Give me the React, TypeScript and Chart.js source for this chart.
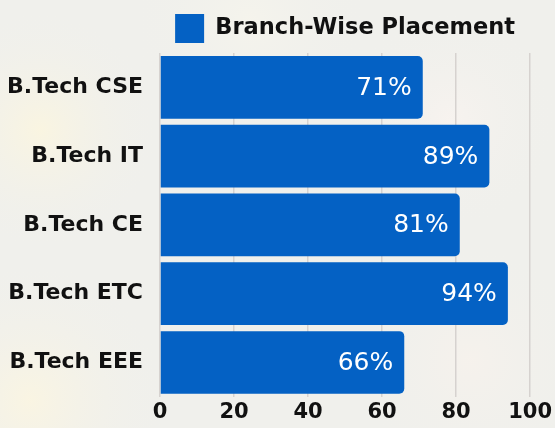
import React, { useEffect, useRef } from "react";
import { Chart, registerables } from "chart.js";

Chart.register(...registerables);

const categories = ["B.Tech CSE", "B.Tech IT", "B.Tech CE", "B.Tech ETC", "B.Tech EEE"];
const placementValues = [71, 89, 81, 94, 66];
const seriesLabel = "Branch-Wise Placement";
const xMin = 0;
const xMax = 100;
const xStep = 20;

const FONT = "'DejaVu Sans', 'Open Sans', sans-serif";
const BAR_COLOR = "#0461c4";

const bgPlugin = {
  id: "bgPlugin",
  beforeDraw(chart: any) {
    const { ctx, width, height } = chart;
    ctx.save();
    ctx.fillStyle = "#f0f0ec";
    ctx.fillRect(0, 0, width, height);
    const spots = [
      [40, 130, 120, "rgba(252,246,222,0.8)"],
      [30, 400, 140, "rgba(252,246,224,0.8)"],
      [470, 360, 120, "rgba(248,242,236,0.7)"],
      [450, 120, 110, "rgba(250,244,240,0.7)"],
      [250, 20, 120, "rgba(248,246,236,0.6)"],
    ] as any[];
    for (const [x, y, r, c] of spots) {
      const g = ctx.createRadialGradient(x, y, 0, x, y, r);
      g.addColorStop(0, c);
      g.addColorStop(1, "rgba(240,240,236,0)");
      ctx.fillStyle = g;
      ctx.fillRect(0, 0, width, height);
    }
    ctx.restore();
  },
};

const labelPlugin = {
  id: "labelPlugin",
  afterDatasetsDraw(chart: any) {
    const { ctx } = chart;
    const meta = chart.getDatasetMeta(0);
    ctx.save();
    ctx.fillStyle = "#ffffff";
    ctx.font = `400 25px ${FONT}`;
    ctx.textAlign = "right";
    ctx.textBaseline = "middle";
    meta.data.forEach((bar: any, i: number) => {
      ctx.fillText(`${placementValues[i]}%`, bar.x - 11, bar.y + 1);
    });
    ctx.restore();
  },
};

export default function App() {
  const ref = useRef<HTMLCanvasElement>(null);
  useEffect(() => {
    if (!ref.current) return;
    const chart = new Chart(ref.current, {
      type: "bar",
      data: {
        labels: categories,
        datasets: [
          {
            label: seriesLabel,
            data: placementValues,
            backgroundColor: BAR_COLOR,
            borderColor: BAR_COLOR,
            borderWidth: 0,
            borderRadius: 5,
            borderSkipped: "start",
            categoryPercentage: 1,
            barPercentage: 0.91,
          },
        ],
      },
      options: {
        indexAxis: "y",
        responsive: false,
        animation: false,
        layout: { padding: { left: 8, right: 2, top: 3, bottom: 0 } },
        plugins: {
          legend: {
            display: true,
            position: "top",
            fullSize: false,
            labels: {
              boxWidth: 29,
              boxHeight: 29,
              padding: 11,
              color: "#111111",
              font: { family: FONT, size: 22.5, weight: "bold" as any },
            },
          },
          tooltip: { enabled: false },
        },
        scales: {
          x: {
            min: xMin,
            max: xMax,
            ticks: {
              stepSize: xStep,
              color: "#111111",
              padding: 3,
              font: { family: FONT, size: 21, weight: "bold" as any },
            },
            grid: { color: "#d6d2cf", drawTicks: false, lineWidth: 1.5 },
            border: { display: false },
          },
          y: {
            afterFit(scale: any) {
              scale.width = 152;
            },
            ticks: {
              color: "#111111",
              padding: 17,
              font: { family: FONT, size: 22, weight: "bold" as any },
            },
            grid: { display: false, drawTicks: false },
            border: { display: false },
          },
        },
      },
      plugins: [bgPlugin, labelPlugin],
    });
    return () => chart.destroy();
  }, []);
  return (
    <div style={{ position: "fixed", left: 0, top: 0, width: 555, height: 428 }}>
      <canvas ref={ref} width={555} height={428} />
    </div>
  );
}
